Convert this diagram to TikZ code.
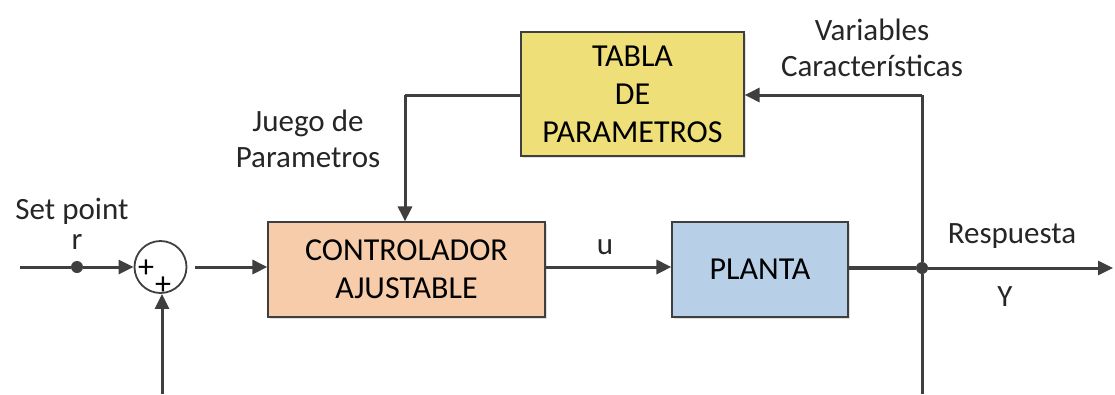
\documentclass[tikz,border=0pt]{standalone}
\usepackage{fontspec}
\setmainfont{Carlito}
\usetikzlibrary{arrows.meta,shadows}
\definecolor{ln}{HTML}{3F3F3F}
\definecolor{tabfill}{HTML}{EEDF78}
\definecolor{ctrlfill}{HTML}{F6CCAA}
\definecolor{plfill}{HTML}{B7CFE7}
\tikzset{
  blk/.style={draw=ln, line width=1.2pt, minimum height=95pt, align=center, font=\fontsize{32}{38}\selectfont, inner sep=0pt,
    drop shadow={shadow xshift=2pt, shadow yshift=-2pt, fill=black!25, opacity=0.5}},
  wire/.style={draw=ln, line width=3pt},
  arr/.style={wire, -{Triangle[length=15pt,width=14pt]}},
  lbl/.style={font=\fontsize{31}{36}\selectfont, text=black!85, align=center, inner sep=0pt},
  dot/.style={circle, fill=ln, inner sep=0pt, minimum size=12pt},
  pm/.style={font=\fontsize{32}{32}\selectfont, inner sep=0pt}
}
\begin{document}
\begin{tikzpicture}[x=1pt,y=-1pt]
\useasboundingbox (0,0) rectangle (1115,394);
% blocks
\node[blk, fill=tabfill, minimum width=223pt, minimum height=124pt] (tab) at (632.5,94) {TABLA\\DE\\PARAMETROS};
\node[blk, fill=ctrlfill, minimum width=277pt] (ctrl) at (406.5,269.5) {CONTROLADOR\\AJUSTABLE};
\node[blk, fill=plfill, minimum width=176pt] (pl) at (760,269.5) {PLANTA};
\node[circle, draw=ln, line width=1.8pt, fill=white, minimum size=52pt, inner sep=0pt] (sum) at (160.5,267) {};
\node[pm] (p1) at (146,269) {+};
\node[pm] (p2) at (163,286) {+};
% coordinates
\coordinate (in) at (20,267);
\node[dot] (rd) at (77,267) {};
\node[dot] (yd) at (922,268) {};
\coordinate (out) at (1113,268);
\coordinate (fbb) at (162,394);
\coordinate (yb) at (922,394);
\coordinate (ytop) at (922,95);
\coordinate (tl) at (405,95);
\coordinate (se) at (195,267);
% wires
\draw[wire] (in) -- (rd);
\draw[arr] (rd) -- (sum.west);
\draw[arr] (se) -- (ctrl.west |- se);
\draw[arr] (fbb) -- (sum.south -| fbb);
\draw[arr] (ctrl.east |- se) -- (pl.west |- se);
\draw[wire, line width=3.6pt] (pl.east |- yd) -- (yd);
\draw[arr] (yd) -- (out);
\draw[wire] (yb) -- (yd) -- (ytop);
\draw[arr] (ytop) -- (tab.east |- ytop);
\draw[wire] (tab.west |- tl) -- (tl);
\draw[arr] (tl) -- (tl |- ctrl.north);
% labels
\node[lbl] (sp) at (72,211) {Set point};
\node[lbl] (r) at (77,242) {r};
\node[lbl] (u) at (605,247) {u};
\node[lbl] (jp) at (308,139) {Juego de\\Parametros};
\node[lbl] (vc) at (872,48) {Variables\\Características};
\node[lbl] (resp) at (1012,236) {Respuesta};
\node[lbl] (y) at (1005,297) {Y};
\end{tikzpicture}
\end{document}
